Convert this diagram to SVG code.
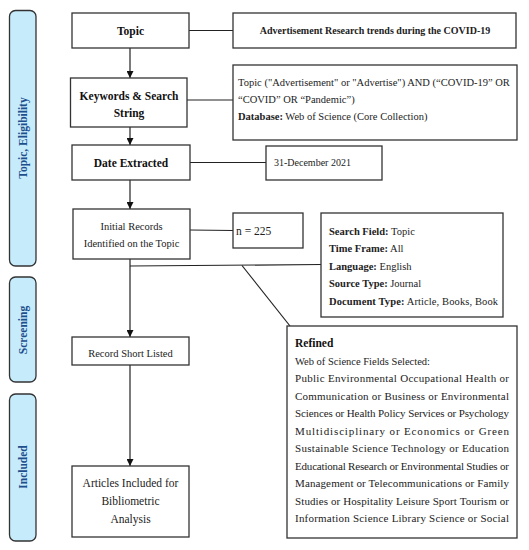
<svg xmlns="http://www.w3.org/2000/svg" width="529" height="550" viewBox="0 0 529 550">
<defs>
<marker id="arr" viewBox="0 0 10 10" refX="10" refY="5" markerWidth="7" markerHeight="7" markerUnits="userSpaceOnUse" orient="auto">
<path d="M0,0 L10,5 L0,10 Z" fill="#111"/>
</marker>
<style>
.bar{fill:#C6ECFC;stroke:#333;stroke-width:1.3}
.bar-t{font-family:"Liberation Serif",serif;font-weight:bold;font-size:11.5px;fill:#1F4E8C;text-anchor:middle}
.box{fill:#fff;stroke:#333;stroke-width:1.3}
.t{font-family:"Liberation Serif",serif;font-size:10.5px;fill:#222}
.tb{font-family:"Liberation Serif",serif;font-size:11.5px;font-weight:bold;fill:#111}
.c{text-anchor:middle}
.b{font-weight:bold}
.ln{stroke:#222;stroke-width:1.2;fill:none}
.ar{stroke:#222;stroke-width:1.2;fill:none;marker-end:url(#arr)}
</style>
</defs>
<rect width="529" height="550" fill="#fff"/>

<g id="phase-topic">
<rect class="bar" x="9.5" y="10.5" width="26.5" height="255.5" rx="6"/>
<text class="bar-t" transform="translate(27,138) rotate(-90)">Topic, Eligibility</text>
</g>
<g id="phase-screening">
<rect class="bar" x="9.5" y="277" width="26.5" height="105" rx="6"/>
<text class="bar-t" transform="translate(27,330) rotate(-90)">Screening</text>
</g>
<g id="phase-included">
<rect class="bar" x="9.5" y="394" width="26.5" height="147" rx="6"/>
<text class="bar-t" transform="translate(27,467) rotate(-90)">Included</text>
</g>

<g id="connectors">
<line class="ar" x1="130" y1="48" x2="130" y2="78"/>
<line class="ar" x1="130" y1="127" x2="130" y2="145"/>
<line class="ar" x1="130" y1="180" x2="130" y2="209"/>
<line class="ar" x1="130" y1="259" x2="130" y2="337"/>
<line class="ar" x1="130" y1="365" x2="130" y2="466"/>
<line class="ln" x1="189" y1="30.5" x2="233" y2="30.5"/>
<line class="ln" x1="187" y1="100" x2="233" y2="100"/>
<line class="ln" x1="190" y1="162.5" x2="266" y2="162.5"/>
<line class="ln" x1="190" y1="230" x2="233" y2="230.5"/>
<line class="ln" x1="130" y1="266" x2="321" y2="264.5"/>
<line class="ln" x1="242" y1="265.5" x2="290" y2="326"/>
</g>

<g id="n-topic">
<rect class="box" x="72" y="13" width="117" height="35"/>
<text class="tb c" x="130.5" y="34.5">Topic</text>
</g>
<g id="n-keywords">
<rect class="box" x="70.5" y="78" width="116.5" height="49"/>
<text class="tb c" x="129" y="100">Keywords &amp; Search</text>
<text class="tb c" x="129" y="117">String</text>
</g>
<g id="n-date">
<rect class="box" x="72" y="145" width="118" height="35"/>
<text class="tb c" x="131" y="167">Date Extracted</text>
</g>
<g id="n-initial">
<rect class="box" x="73" y="209" width="117" height="50"/>
<text class="t c" x="131.5" y="229.5">Initial Records</text>
<text class="t c" x="131.5" y="246.5">Identified on the Topic</text>
</g>
<g id="n-record">
<rect class="box" x="72" y="337" width="117" height="28"/>
<text class="t c" x="130.5" y="357">Record Short Listed</text>
</g>
<g id="n-articles">
<rect class="box" x="72" y="466" width="117" height="71"/>
<text class="t c" x="130.5" y="487" style="font-size:11.5px">Articles Included for</text>
<text class="t c" x="130.5" y="505" style="font-size:11.5px">Bibliometric</text>
<text class="t c" x="130.5" y="522.5" style="font-size:11.5px">Analysis</text>
</g>

<g id="n-advert">
<rect class="box" x="233" y="13" width="283" height="35"/>
<text class="t c b" x="375" y="34" style="font-size:10px">Advertisement Research trends during the COVID-19</text>
</g>
<g id="n-query">
<rect class="box" x="233" y="65" width="284" height="75"/>
<text class="t" x="238" y="86">Topic ("Advertisement" or "Advertise") AND (“COVID-19” OR</text>
<text class="t" x="238" y="103">“COVID” OR “Pandemic”)</text>
<text class="t" x="238" y="120"><tspan class="b">Database:</tspan> Web of Science (Core Collection)</text>
</g>
<g id="n-dec">
<rect class="box" x="266" y="146" width="116" height="34"/>
<text class="t" x="274" y="166" style="font-size:10px">31-December 2021</text>
</g>
<g id="n-count">
<rect class="box" x="233" y="213" width="70" height="35"/>
<text class="t" x="236" y="234.5" style="font-size:11.5px">n = 225</text>
</g>
<g id="n-search">
<rect class="box" x="321" y="213" width="182" height="104"/>
<text class="t" x="329" y="234.5"><tspan class="b">Search Field:</tspan> Topic</text>
<text class="t" x="329" y="252"><tspan class="b">Time Frame:</tspan> All</text>
<text class="t" x="329" y="269.5"><tspan class="b">Language:</tspan> English</text>
<text class="t" x="329" y="287"><tspan class="b">Source Type:</tspan> Journal</text>
<text class="t" x="329" y="304.5" textLength="169" lengthAdjust="spacing"><tspan class="b">Document Type:</tspan> Article, Books, Book</text>
</g>
<g id="n-refined">
<rect class="box" x="287" y="326" width="230" height="212"/>
<text class="tb" x="295" y="347">Refined</text>
<text class="t" x="295" y="364.5">Web of Science Fields Selected:</text>
<g style="font-size:11px">
<text class="t" x="295" y="382" textLength="214" lengthAdjust="spacing" style="font-size:11px">Public Environmental Occupational Health or</text>
<text class="t" x="295" y="399.5" textLength="214" lengthAdjust="spacing" style="font-size:11px">Communication or Business or Environmental</text>
<text class="t" x="295" y="417" textLength="214" lengthAdjust="spacing" style="font-size:11px">Sciences or Health Policy Services or Psychology</text>
<text class="t" x="295" y="434.5" textLength="214" lengthAdjust="spacing" style="font-size:11px">Multidisciplinary or Economics or Green</text>
<text class="t" x="295" y="452" textLength="214" lengthAdjust="spacing" style="font-size:11px">Sustainable Science Technology or Education</text>
<text class="t" x="295" y="469.5" textLength="214" lengthAdjust="spacing" style="font-size:11px">Educational Research or Environmental Studies or</text>
<text class="t" x="295" y="487" textLength="214" lengthAdjust="spacing" style="font-size:11px">Management or Telecommunications or Family</text>
<text class="t" x="295" y="504.5" textLength="214" lengthAdjust="spacing" style="font-size:11px">Studies or Hospitality Leisure Sport Tourism or</text>
<text class="t" x="295" y="522" textLength="214" lengthAdjust="spacing" style="font-size:11px">Information Science Library Science or Social</text>
</g>
</g>
</svg>
